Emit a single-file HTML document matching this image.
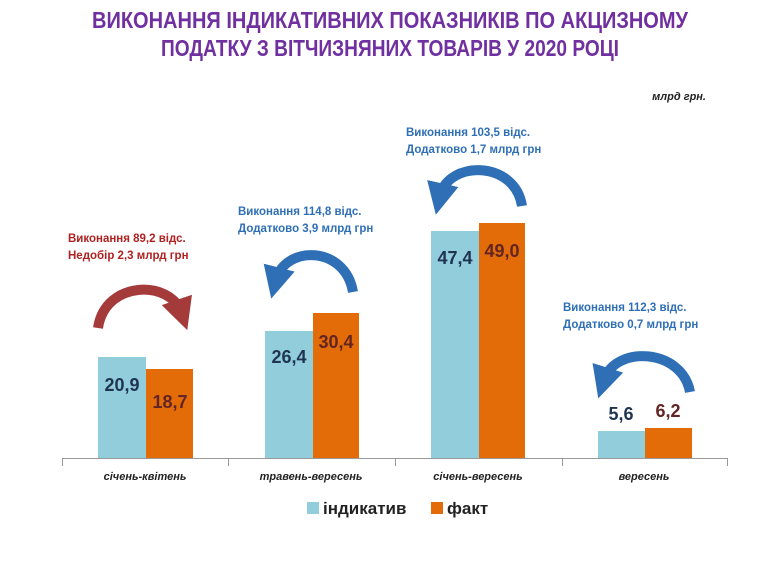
<!DOCTYPE html>
<html><head><meta charset="utf-8"><style>
body{margin:0;width:759px;height:580px;background:#fff;overflow:hidden;position:relative;font-family:"Liberation Sans",sans-serif}
</style></head><body>
<svg width="759" height="580" style="position:absolute;left:0;top:0">
<defs>
<marker id="hr" viewBox="0 0 10 10" refX="4" refY="5" markerWidth="3.2" markerHeight="3.2" orient="auto"><path d="M0,0L10,5L0,10z" fill="#a53a3a"/></marker>
<marker id="hb" viewBox="0 0 10 10" refX="4" refY="5" markerWidth="3.2" markerHeight="3.2" orient="auto"><path d="M0,0L10,5L0,10z" fill="#2e6fb5"/></marker>
</defs>
<g font-family="Liberation Sans Narrow, Liberation Sans, sans-serif" font-weight="bold" fill="#7030a0" text-anchor="middle" font-size="23">
<text x="390" y="28" textLength="596" lengthAdjust="spacingAndGlyphs">ВИКОНАННЯ ІНДИКАТИВНИХ ПОКАЗНИКІВ ПО АКЦИЗНОМУ</text>
<text x="390" y="56" textLength="458" lengthAdjust="spacingAndGlyphs">ПОДАТКУ З ВІТЧИЗНЯНИХ ТОВАРІВ У 2020 РОЦІ</text>
</g>
<rect x="98" y="357" width="48" height="102" fill="#92cddc"/>
<rect x="146" y="369" width="47" height="90" fill="#e36c09"/>
<rect x="265" y="331" width="48" height="128" fill="#92cddc"/>
<rect x="313" y="313" width="46" height="146" fill="#e36c09"/>
<rect x="431" y="231" width="48" height="228" fill="#92cddc"/>
<rect x="479" y="223" width="46" height="236" fill="#e36c09"/>
<rect x="598" y="431" width="47" height="28" fill="#92cddc"/>
<rect x="645" y="428" width="47" height="31" fill="#e36c09"/>
<path d="M62,458.5H727M62.5,458V466M228.5,458V466M395.5,458V466M562.5,458V466M727.5,458V466" stroke="#999" stroke-width="1"/>
<path d="M98,328 C105,280 170,280 181,312" stroke="#a53a3a" stroke-width="10" fill="none" marker-end="url(#hr)"/>
<path d="M353,292 C345,245 285,245 276,280" stroke="#2e6fb5" stroke-width="10" fill="none" marker-end="url(#hb)"/>
<path d="M522,206 C515,160 448,160 440,196" stroke="#2e6fb5" stroke-width="10" fill="none" marker-end="url(#hb)"/>
<path d="M690,392 C682,348 615,345 604,380" stroke="#2e6fb5" stroke-width="10" fill="none" marker-end="url(#hb)"/>
<g font-weight="bold" font-size="18" text-anchor="middle" font-family="Liberation Sans Narrow, Liberation Sans, sans-serif">
<text x="122" y="391" fill="#1f3450">20,9</text><text x="170" y="408" fill="#632523">18,7</text>
<text x="289" y="363" fill="#1f3450">26,4</text><text x="336" y="348" fill="#632523">30,4</text>
<text x="455" y="264" fill="#1f3450">47,4</text><text x="502" y="257" fill="#632523">49,0</text>
<text x="621" y="420" fill="#1f3450">5,6</text><text x="668" y="417" fill="#632523">6,2</text>
</g>
<g font-weight="bold" font-style="italic" font-size="11" text-anchor="middle" fill="#222">
<text x="145" y="480">січень-квітень</text><text x="311" y="480">травень-вересень</text>
<text x="478" y="480">січень-вересень</text><text x="644" y="480">вересень</text>
</g>
<rect x="307" y="502" width="12" height="12" fill="#92cddc"/>
<rect x="431" y="502" width="12" height="12" fill="#e36c09"/>
<g font-weight="bold" font-size="17" fill="#222"><text x="323" y="514">індикатив</text><text x="447" y="514">факт</text></g>
<text x="706" y="100" font-size="11" font-weight="bold" font-style="italic" text-anchor="end" fill="#222">млрд грн.</text>
<g font-weight="bold" font-size="11.5">
<text x="68" y="242" fill="#b02121">Виконання  89,2 відс.</text><text x="68" y="259" fill="#b02121">Недобір 2,3  млрд грн</text>
<text x="238" y="215" fill="#2e6fb5">Виконання  114,8 відс.</text><text x="238" y="232" fill="#2e6fb5">Додатково 3,9  млрд грн</text>
<text x="406" y="136" fill="#2e6fb5">Виконання  103,5 відс.</text><text x="406" y="153" fill="#2e6fb5">Додатково 1,7  млрд грн</text>
<text x="563" y="311" fill="#2e6fb5">Виконання  112,3 відс.</text><text x="563" y="328" fill="#2e6fb5">Додатково 0,7  млрд грн</text>
</g>
</svg>
</body></html>
